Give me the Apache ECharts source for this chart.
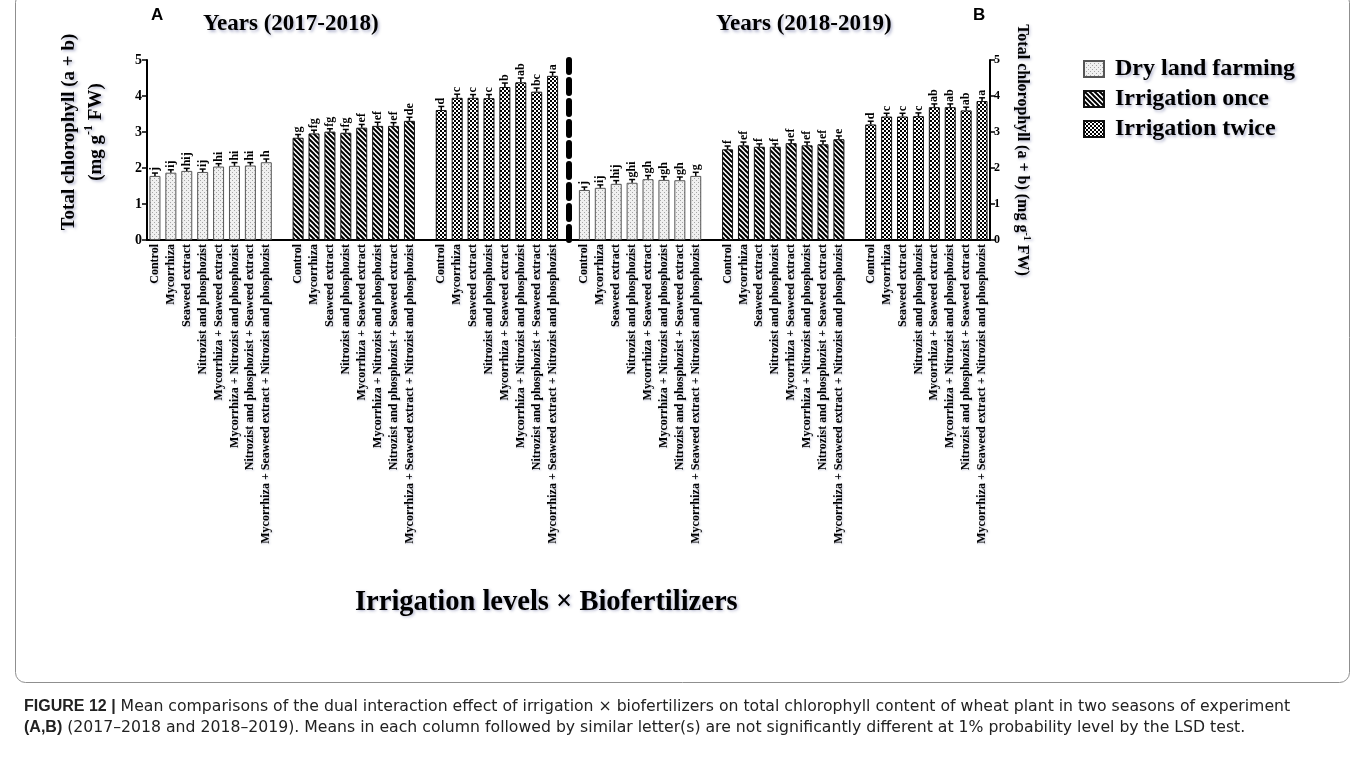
<!DOCTYPE html>
<html>
<head>
<meta charset="utf-8">
<script src="https://cdn.jsdelivr.net/npm/echarts@6/dist/echarts.min.js"></script>
<style>
html, body { margin: 0; background: #fff; }
#main { width: 1360px; height: 763px; }
</style>
</head>
<body>
<div id="main"></div>
<script>
var treatments = ['Control', 'Mycorrhiza', 'Seaweed extract', 'Nitrozist and phosphozist',
	'Mycorrhiza + Seaweed extract', 'Mycorrhiza + Nitrozist and phosphozist',
	'Nitrozist and phosphozist + Seaweed extract',
	'Mycorrhiza + Seaweed extract + Nitrozist and phosphozist'];
var seriesNames = ['Dry land farming', 'Irrigation once', 'Irrigation twice'];

// 2017-2018
var dry2017 = [1.78, 1.87, 1.92, 1.89, 2.04, 2.06, 2.07, 2.16];
var once2017 = [2.84, 2.96, 3.01, 2.98, 3.12, 3.17, 3.17, 3.31];
var twice2017 = [3.61, 3.95, 3.95, 3.94, 4.25, 4.38, 4.12, 4.56];
// 2018-2019
var dry2018 = [1.39, 1.45, 1.56, 1.59, 1.69, 1.67, 1.66, 1.78];
var once2018 = [2.52, 2.63, 2.59, 2.59, 2.69, 2.63, 2.66, 2.80];
var twice2018 = [3.21, 3.43, 3.43, 3.44, 3.69, 3.69, 3.60, 3.86];

// error bars
var dryErr2017 = [0.08, 0.08, 0.07, 0.08, 0.08, 0.09, 0.08, 0.09];
var onceErr2017 = [0.09, 0.09, 0.08, 0.09, 0.09, 0.10, 0.09, 0.10];
var twiceErr2017 = [0.10, 0.10, 0.09, 0.10, 0.11, 0.12, 0.10, 0.10];
var dryErr2018 = [0.08, 0.08, 0.09, 0.09, 0.10, 0.09, 0.09, 0.10];
var onceErr2018 = [0.09, 0.09, 0.08, 0.08, 0.09, 0.09, 0.09, 0.09];
var twiceErr2018 = [0.09, 0.09, 0.09, 0.09, 0.09, 0.09, 0.09, 0.09];

// LSD letters
var dryLet2017 = ['j', 'ij', 'hij', 'ij', 'hi', 'hi', 'hi', 'h'];
var onceLet2017 = ['g', 'fg', 'fg', 'fg', 'ef', 'ef', 'ef', 'de'];
var twiceLet2017 = ['d', 'c', 'c', 'c', 'b', 'ab', 'bc', 'a'];
var dryLet2018 = ['j', 'ij', 'hij', 'ghi', 'gh', 'gh', 'gh', 'g'];
var onceLet2018 = ['f', 'ef', 'f', 'f', 'ef', 'ef', 'ef', 'e'];
var twiceLet2018 = ['d', 'c', 'c', 'c', 'ab', 'ab', 'ab', 'a'];

var groups = [
	{ s: 0, v: dry2017, e: dryErr2017, l: dryLet2017 },
	{ s: 1, v: once2017, e: onceErr2017, l: onceLet2017 },
	{ s: 2, v: twice2017, e: twiceErr2017, l: twiceLet2017 },
	{ s: 0, v: dry2018, e: dryErr2018, l: dryLet2018 },
	{ s: 1, v: once2018, e: onceErr2018, l: onceLet2018 },
	{ s: 2, v: twice2018, e: twiceErr2018, l: twiceLet2018 }
];

var serif = '"Liberation Serif", "Times New Roman", serif';
var sans = '"Liberation Sans", Arial, sans-serif';
var shadow = { textShadowColor: 'rgba(40,50,120,0.35)', textShadowBlur: 3, textShadowOffsetX: 1.5, textShadowOffsetY: 1.5 };

function pattern(kind) {
	var c = document.createElement('canvas');
	var ctx = c.getContext('2d');
	if (kind == 'dots') {
		c.width = 4; c.height = 4;
		ctx.fillStyle = '#f0f0f0';
		ctx.fillRect(0, 0, 4, 4);
		ctx.fillStyle = '#a6a6a6';
		ctx.fillRect(0, 0, 1, 1);
		ctx.fillRect(2, 2, 1, 1);
	} else if (kind == 'stripes') {
		c.width = 5; c.height = 5;
		ctx.fillStyle = '#fff';
		ctx.fillRect(0, 0, 5, 5);
		ctx.strokeStyle = '#000';
		ctx.lineWidth = 2;
		for (var k = -1; k <= 1; k++) {
			ctx.beginPath();
			ctx.moveTo(k * 5 - 1, -1);
			ctx.lineTo(k * 5 + 6, 6);
			ctx.stroke();
		}
	} else {
		c.width = 4; c.height = 4;
		ctx.fillStyle = '#000';
		ctx.fillRect(0, 0, 4, 4);
		ctx.fillStyle = '#fff';
		ctx.fillRect(0, 0, 2, 2);
		ctx.fillRect(2, 2, 2, 2);
	}
	return { image: c, repeat: 'repeat' };
}
var fills = [pattern('dots'), pattern('stripes'), pattern('check')];

// 8 bars per group, one empty slot between groups
var cats = [], barData = [[], [], []], errData = [], letters = [];
var sepIndex = 0;
groups.forEach(function(g, gi) {
	g.v.forEach(function(v, i) {
		var idx = cats.length;
		cats.push(treatments[i]);
		for (var s = 0; s < 3; s++) barData[s].push(s == g.s ? v : '-');
		errData.push([idx, v, g.e[i]]);
		letters.push(g.l[i]);
	});
	if (gi < groups.length - 1) {
		if (gi == 2) sepIndex = cats.length;
		cats.push('');
		for (var s = 0; s < 3; s++) barData[s].push('-');
	}
});

function renderErr(params, api) {
	var x = api.value(0), v = api.value(1), e = api.value(2);
	var base = api.coord([x, v]);
	var top = api.coord([x, v + e]);
	return {
		type: 'group',
		children: [
			{ type: 'line', shape: { x1: top[0], y1: base[1], x2: top[0], y2: top[1] }, style: { stroke: '#000', lineWidth: 1.5 } },
			{ type: 'line', shape: { x1: top[0] - 3, y1: top[1], x2: top[0] + 3, y2: top[1] }, style: { stroke: '#000', lineWidth: 1.5 } },
			{ type: 'text', x: top[0], y: top[1] - 2, rotation: Math.PI / 2,
				style: { text: letters[params.dataIndex], font: 'bold 12px ' + serif, fill: '#000', align: 'left', verticalAlign: 'middle' } }
		]
	};
}

var myChart = echarts.init(document.getElementById('main'));

var series = seriesNames.map(function(name, s) {
	return {
		name: name,
		type: 'bar',
		data: barData[s],
		barWidth: 11,
		barGap: '-100%',
		itemStyle: { color: fills[s], borderColor: s == 0 ? '#555' : '#111', borderWidth: 1 },
		z: 2
	};
});
series.push({
	type: 'custom',
	name: 'err',
	renderItem: renderErr,
	data: errData,
	encode: { x: 0, y: 1 },
	z: 3,
	silent: true,
	markLine: {
		silent: true,
		symbol: 'none',
		label: { show: false },
		lineStyle: { color: '#000', width: 6, type: [13, 8], cap: 'round' },
		data: [{ xAxis: sepIndex }]
	}
});

var capStyle = { fontFamily: '"DejaVu Sans", sans-serif', fontSize: 15.7, fontWeight: 'normal', color: '#222',
	rich: { b: { fontFamily: sans, fontSize: 16, fontWeight: 'bold', color: '#222' } } };

var option = {
	animation: false,
	backgroundColor: '#fff',
	title: [
		{ text: 'A', left: 146, top: 2, textStyle: { fontFamily: sans, fontWeight: 'bold', fontSize: 17, color: '#000' } },
		{ text: 'B', left: 968, top: 2, textStyle: { fontFamily: sans, fontWeight: 'bold', fontSize: 17, color: '#000' } },
		{ text: 'Years (2017-2018)', left: 198, top: 8, textStyle: Object.assign({ fontFamily: serif, fontWeight: 'bold', fontSize: 23, color: '#000' }, shadow) },
		{ text: 'Years (2018-2019)', left: 711, top: 8, textStyle: Object.assign({ fontFamily: serif, fontWeight: 'bold', fontSize: 23, color: '#000' }, shadow) },
		{ text: 'Irrigation levels × Biofertilizers', left: 350, top: 583, textStyle: Object.assign({ fontFamily: serif, fontWeight: 'bold', fontSize: 28.5, color: '#000' }, shadow) },
		{ text: '{b|FIGURE 12 |} Mean comparisons of the dual interaction effect of irrigation × biofertilizers on total chlorophyll content of wheat plant in two seasons of experiment',
			left: 19, top: 694, textStyle: capStyle },
		{ text: '{b|(A,B)} (2017–2018 and 2018–2019). Means in each column followed by similar letter(s) are not significantly different at 1% probability level by the LSD test.',
			left: 19, top: 715, textStyle: capStyle }
	],
	legend: {
		orient: 'vertical',
		left: 1078,
		top: 52,
		itemWidth: 20,
		itemHeight: 16,
		itemGap: 6,
		icon: 'rect',
		data: seriesNames,
		textStyle: Object.assign({ fontFamily: serif, fontWeight: 'bold', fontSize: 24, color: '#000', padding: [0, 0, 0, 6] }, shadow)
	},
	grid: { left: 147, right: 370, top: 60, height: 180 },
	xAxis: {
		type: 'category',
		data: cats,
		axisLine: { lineStyle: { color: '#000', width: 2 } },
		axisTick: { alignWithLabel: true, length: 5, lineStyle: { color: '#000', width: 1.5 },
			interval: function(index, value) { return value !== ''; } },
		axisLabel: { interval: 0, rotate: 90, margin: 4, fontFamily: serif, fontWeight: 'bold', fontSize: 12, color: '#000',
			textShadowColor: 'rgba(40,50,120,0.25)', textShadowBlur: 2, textShadowOffsetX: 1, textShadowOffsetY: 1 },
		splitLine: { show: false }
	},
	yAxis: [
		{
			type: 'value', min: 0, max: 5, interval: 1,
			name: 'Total chlorophyll (a + b)\n(mg g{sup|-1} FW)',
			nameLocation: 'middle', nameRotate: 90, nameGap: 37,
			nameTextStyle: Object.assign({ fontFamily: serif, fontWeight: 'bold', fontSize: 19, lineHeight: 27, color: '#000',
				padding: [0, 0, 0, 36],
				rich: { sup: { fontFamily: serif, fontWeight: 'bold', fontSize: 12, lineHeight: 14, verticalAlign: 'top', color: '#000' } } }, shadow),
			axisLine: { show: true, lineStyle: { color: '#000', width: 2 } },
			axisTick: { show: true, length: 5, lineStyle: { color: '#000', width: 1.5 } },
			axisLabel: { fontFamily: serif, fontWeight: 'bold', fontSize: 14, color: '#000', margin: 5 },
			splitLine: { show: false }
		},
		{
			type: 'value', min: 0, max: 5, interval: 1, position: 'right',
			name: 'Total chlorophyll (a + b) (mg g{sup|-1} FW)',
			nameLocation: 'middle', nameRotate: -90, nameGap: 22,
			nameTextStyle: Object.assign({ fontFamily: serif, fontWeight: 'bold', fontSize: 16, lineHeight: 20, color: '#000',
				rich: { sup: { fontFamily: serif, fontWeight: 'bold', fontSize: 10, lineHeight: 12, verticalAlign: 'top', color: '#000' } } }, shadow),
			axisLine: { show: true, lineStyle: { color: '#000', width: 2 } },
			axisTick: { show: true, length: 5, lineStyle: { color: '#000', width: 1.5 } },
			axisLabel: { fontFamily: serif, fontWeight: 'bold', fontSize: 12, color: '#000', margin: 4 },
			splitLine: { show: false }
		}
	],
	graphic: [
		{ type: 'rect', left: 13, top: -10, silent: true,
			shape: { width: 1334, height: 690, r: 10 },
			style: { fill: 'none', stroke: '#8f8f8f', lineWidth: 1 } }
	],
	series: series
};

myChart.setOption(option);
</script>
</body>
</html>
